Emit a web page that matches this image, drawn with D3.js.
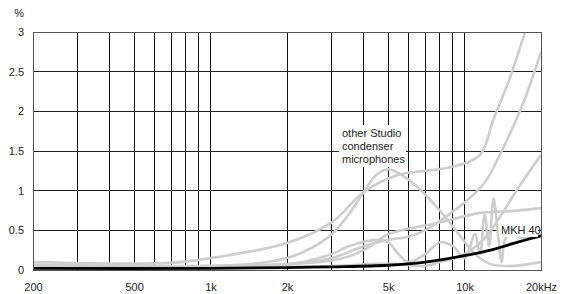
<!DOCTYPE html>
<html><head><meta charset="utf-8">
<script src="https://cdn.jsdelivr.net/npm/d3@7"></script>
<style>
html,body{margin:0;padding:0;background:#fff;}
text{font-family:"Liberation Sans","Arial",sans-serif;font-size:11px;fill:#222;}
</style></head><body>
<svg id="c" width="569" height="294"></svg>
<script>
const gridFreqs = [300,400,500,600,700,800,900,1000,2000,3000,4000,5000,6000,7000,8000,9000,10000];
const xTickVals = [200,500,1000,2000,5000,10000,20000];
const xTickLabels = ["200","500","1k","2k","5k","10k","20kHz"];
const yTickVals = [0,0.5,1,1.5,2,2.5,3];
const yTickLabels = ["0","0.5","1","1.5","2","2.5","3"];

const mkh40 = [[200,0.02],[1000,0.02],[2000,0.03],[3000,0.04],[5000,0.06],[7000,0.1],[10000,0.18],[13000,0.26],[15000,0.32],[20000,0.43]];

const otherA = [[200,0.1],[700,0.09],[1000,0.15],[2000,0.34],[3000,0.6],[4000,0.98],[5500,1.2],[7000,1.25],[9000,1.3],[11500,1.45],[13000,1.9],[15000,2.4],[17500,3.05]];
const otherB = [[200,0.05],[1000,0.05],[1500,0.08],[2000,0.15],[2500,0.28],[3000,0.45],[3500,0.7],[4000,0.98],[4500,1.2],[5000,1.27],[5500,1.22],[6500,1.05],[8000,0.75],[9500,0.45],[11000,0.2],[12500,0.08],[15000,0.05],[20000,0.1]];
const otherC = [[200,0.07],[2000,0.07],[3000,0.15],[4000,0.3],[5000,0.38],[6000,0.42],[7000,0.5],[8000,0.62],[10000,0.85],[12000,1.1],[14000,1.5],[17000,2.1],[20000,2.75]];
const otherD = [[200,0.05],[2000,0.07],[3000,0.2],[3500,0.3],[4500,0.38],[5000,0.35],[5500,0.2],[6000,0.1],[7000,0.2],[8000,0.35],[9000,0.3],[10000,0.15],[11000,0.45],[11500,0.2],[12000,0.7],[12500,0.3],[13000,0.9],[13500,0.5],[14000,0.1],[14500,0.4],[15500,0.45],[17000,0.4],[20000,0.45]];
const otherE = [[200,0.05],[3000,0.12],[4000,0.25],[5000,0.45],[6000,0.52],[8000,0.6],[11500,0.72],[15000,0.74],[20000,0.78]];
const otherF = [[200,0.04],[3000,0.05],[5000,0.08],[7000,0.05],[8000,0.1],[10000,0.2],[12000,0.4],[14000,0.7],[16000,1.0],[20000,1.45]];
const others = [otherA, otherB, otherC, otherD, otherE, otherF];

const svg = d3.select("#c");
const L=33, R=541, T=32, B=270;
const x = d3.scaleLog().domain([200,20000]).range([L,R]);
const y = d3.scaleLinear().domain([0,3]).range([B,T]);

svg.append("g").selectAll("line").data(gridFreqs).join("line")
  .attr("x1",d=>x(d)).attr("x2",d=>x(d)).attr("y1",T).attr("y2",B)
  .attr("stroke","#111").attr("stroke-width",1).attr("shape-rendering","crispEdges");
svg.append("g").selectAll("line").data(yTickVals.slice(1,-1)).join("line")
  .attr("x1",L).attr("x2",R).attr("y1",d=>y(d)).attr("y2",d=>y(d))
  .attr("stroke","#222").attr("stroke-width",1).attr("shape-rendering","crispEdges");

svg.append("clipPath").attr("id","pc").append("rect")
  .attr("x",L).attr("y",T).attr("width",R-L).attr("height",B-T);

const line = d3.line().x(d=>x(d[0])).y(d=>y(d[1])).curve(d3.curveCatmullRom.alpha(0.5));
const g = svg.append("g").attr("clip-path","url(#pc)");
g.selectAll("path.o").data(others).join("path").attr("class","o")
  .attr("d",line).attr("fill","none").attr("stroke","#cdcdcd").attr("stroke-width",2.6);
g.append("path").datum(mkh40).attr("d",line).attr("fill","none").attr("stroke","#000").attr("stroke-width",2.8);

svg.append("rect").attr("x",L).attr("y",T).attr("width",R-L).attr("height",B-T)
  .attr("fill","none").attr("stroke","#555").attr("stroke-width",1).attr("shape-rendering","crispEdges");

const xAxis = d3.axisBottom(x).tickValues(xTickVals).tickFormat((d,i)=>xTickLabels[i]).tickSize(0).tickPadding(13);
const xg = svg.append("g").attr("transform",`translate(0,${B})`).call(xAxis);
xg.select(".domain").remove();
const yAxis = d3.axisLeft(y).tickValues(yTickVals).tickFormat((d,i)=>yTickLabels[i]).tickSize(0).tickPadding(9);
const yg = svg.append("g").attr("transform",`translate(${L},0)`).call(yAxis);
yg.select(".domain").remove();
svg.selectAll(".tick text").attr("font-family",null).attr("font-size",null).attr("fill","#222");
svg.append("text").attr("x",24).attr("y",17).attr("text-anchor","end").text("%");

const lab = svg.append("g");
lab.append("rect").attr("x",339).attr("y",125).attr("width",67).attr("height",42).attr("fill","#fff");
["other Studio","condenser","microphones"].forEach((t,i)=>{
  lab.append("text").attr("x",342).attr("y",137+i*13).text(t);
});
lab.append("rect").attr("x",499).attr("y",223).attr("width",39).attr("height",14).attr("fill","#fff");
lab.append("text").attr("x",501).attr("y",234).text("MKH 40");
</script></body></html>
